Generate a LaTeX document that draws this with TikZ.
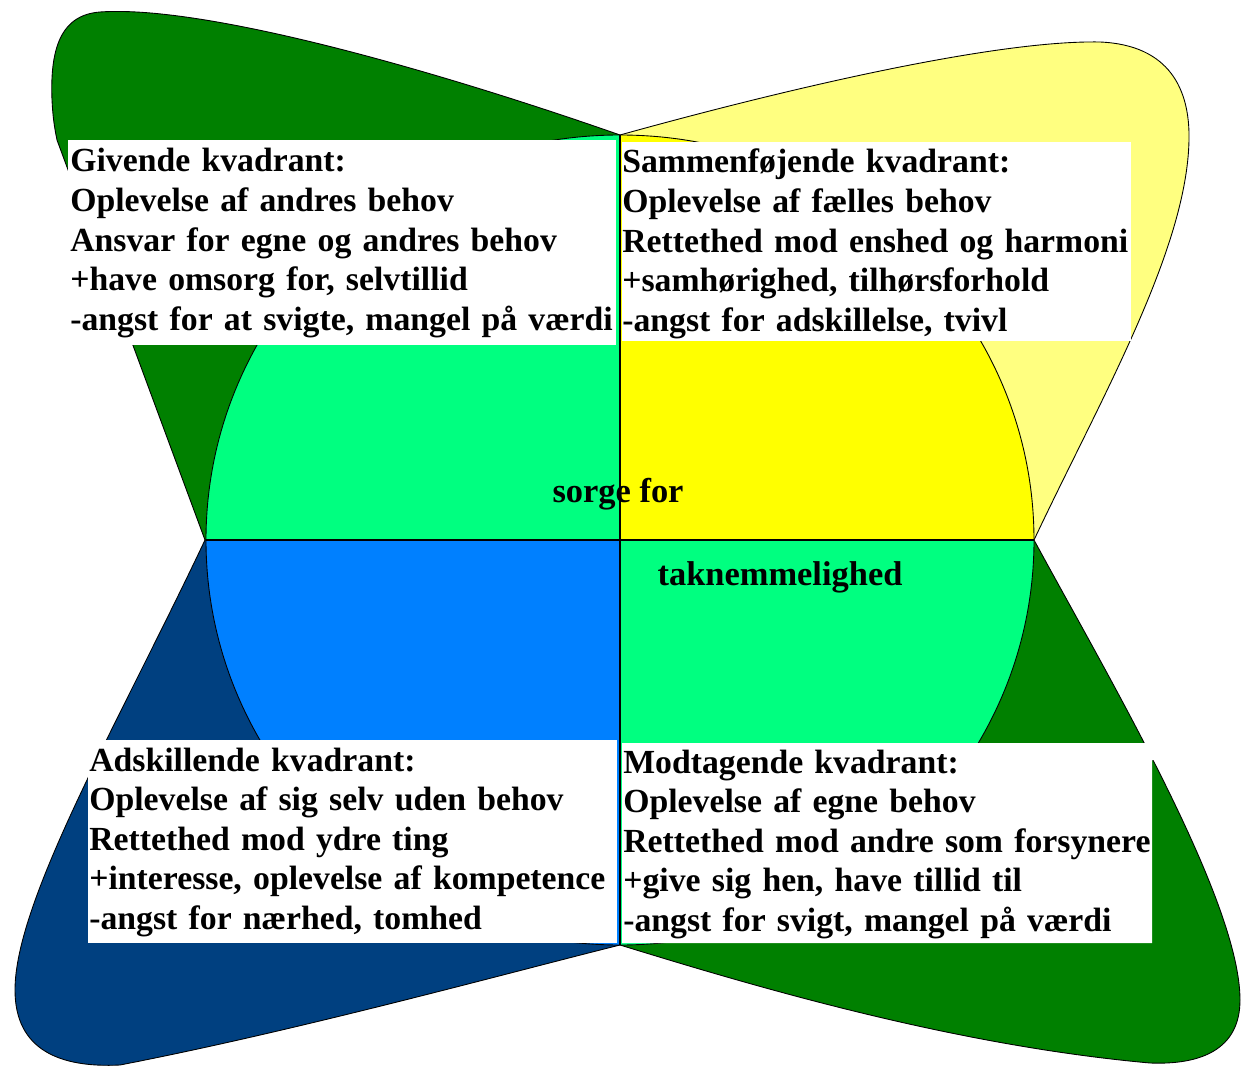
\documentclass[tikz,border=0pt]{standalone}
\usepackage{fontspec}
\setmainfont{Liberation Serif}
\definecolor{leafgreen}{RGB}{0,128,0}
\definecolor{leafyellow}{RGB}{255,255,128}
\definecolor{leafblue}{RGB}{0,64,128}
\definecolor{quadgreen}{RGB}{0,255,128}
\definecolor{quadyellow}{RGB}{255,255,0}
\definecolor{quadblue}{RGB}{0,128,255}
\begin{document}
\begin{tikzpicture}[x=0.02cm,y=-0.02cm,
	leaf/.style={draw=black,line width=0.5pt},
	kvad/.style={anchor=base west,align=left,inner sep=0pt,text width=12cm,
		font=\bfseries\fontsize{19.2}{22.5}\selectfont},
	ord/.style={anchor=base,inner sep=0pt,font=\bfseries\fontsize{19.6}{22.5}\selectfont}]
	\useasboundingbox (0,0) rectangle (1241,1067);
	% blade
	\filldraw[leaf,fill=leafgreen] (620,135) .. controls (420,65) and (200,5) .. (100,12)
		.. controls (60,15) and (50,50) .. (52,100) .. controls (53,120) and (55,130) .. (57,140)
		-- (205,540) -- (620,540) -- cycle;
	\filldraw[leaf,fill=leafyellow] (620,135) .. controls (800,85) and (1000,40) .. (1100,42)
		.. controls (1170,45) and (1190,90) .. (1189,140)
		.. controls (1187,250) and (1100,400) .. (1034,540) -- (620,540) -- cycle;
	\filldraw[leaf,fill=leafblue] (205,540) .. controls (120,720) and (15,900) .. (15,990)
		.. controls (15,1050) and (60,1068) .. (120,1065)
		.. controls (300,1030) and (500,975) .. (620,945) -- (620,540) -- cycle;
	\filldraw[leaf,fill=leafgreen] (1034,540) .. controls (1110,680) and (1240,900) .. (1240,1000)
		.. controls (1240,1050) and (1200,1065) .. (1150,1063)
		.. controls (950,1045) and (750,985) .. (620,945) -- (620,540) -- cycle;
	% cirkel
	\begin{scope}
		\clip (0,0) rectangle (620,540);
		\fill[quadgreen] (620,540) ellipse [x radius=414,y radius=405];
	\end{scope}
	\begin{scope}
		\clip (620,0) rectangle (1241,540);
		\fill[quadyellow] (620,540) ellipse [x radius=414,y radius=405];
	\end{scope}
	\begin{scope}
		\clip (0,540) rectangle (620,1067);
		\fill[quadblue] (620,540) ellipse [x radius=414,y radius=405];
	\end{scope}
	\begin{scope}
		\clip (620,540) rectangle (1241,1067);
		\fill[quadgreen] (620,540) ellipse [x radius=414,y radius=405];
	\end{scope}
	\draw[line width=0.5pt] (620,540) ellipse [x radius=414,y radius=405];
	\draw[line width=0.6pt] (620,135) -- (620,945);
	\draw[line width=1.1pt] (206,540) -- (1034,540);
	% tekstfelter
	\fill[white] (68,140) rectangle (616,345);
	\fill[white] (622,142) rectangle (1131,341);
	\fill[white] (88,740) rectangle (617,943);
	\fill[white] (622,743) -- (1165,743) -- (1165,760) -- (1152,760) -- (1152,943) -- (622,943) -- cycle;
	\node (Gi) at (70,172) [kvad] {Givende kvadrant:\\Oplevelse af andres behov\\Ansvar for egne og andres behov\\+have omsorg for, selvtillid\\-angst for at svigte, mangel på værdi};
	\node (Sa) at (622,173) [kvad] {Sammenføjende kvadrant:\\Oplevelse af fælles behov\\Rettethed mod enshed og harmoni\\+samhørighed, tilhørsforhold\\-angst for adskillelse, tvivl};
	\node (Ad) at (89,771) [kvad] {Adskillende kvadrant:\\Oplevelse af sig selv uden behov\\Rettethed mod ydre ting\\+interesse, oplevelse af kompetence\\-angst for nærhed, tomhed};
	\node (Mo) at (623,773) [kvad] {Modtagende kvadrant:\\Oplevelse af egne behov\\Rettethed mod andre som forsynere\\+give sig hen, have tillid til\\-angst for svigt, mangel på værdi};
	\node (So) at (618,502) [ord] {sorge for};
	\node (Ta) at (780,585) [ord] {taknemmelighed};
\end{tikzpicture}
\end{document}
